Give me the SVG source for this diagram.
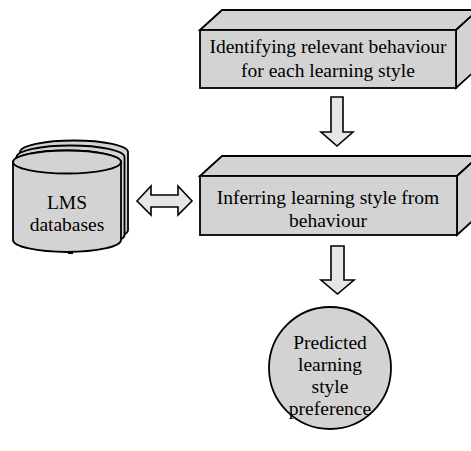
<svg xmlns="http://www.w3.org/2000/svg" width="471" height="451" viewBox="0 0 471 451">
  <style>
    .shape { fill: #d3d3d3; stroke: #000; stroke-width: 1.8; stroke-linejoin: miter; }
    .arrow { fill: #e6e6e6; stroke: #000; stroke-width: 1.6; stroke-linejoin: miter; }
    .label { font-family: "Liberation Serif", "Times New Roman", serif; font-size: 19.5px; fill: #000; text-anchor: middle; }
  </style>
  <rect width="471" height="451" fill="#fff"/>

  <!-- Process block: identifying behaviour -->
  <g id="identify">
    <polygon class="shape" points="200,30 222,10 478,10 456,30"/>
    <polygon class="shape" points="456,30 478,10 478,68 456,88"/>
    <rect class="shape" x="200" y="30" width="256" height="58"/>
    <text class="label" x="328" y="53">Identifying relevant behaviour</text>
    <text class="label" x="328" y="77">for each learning style</text>
  </g>

  <!-- Process block: inferring style -->
  <g id="infer">
    <polygon class="shape" points="200,176 222,156 479,156 457,176"/>
    <polygon class="shape" points="457,176 479,156 479,215 457,235"/>
    <rect class="shape" x="200" y="176" width="257" height="59"/>
    <text class="label" x="328" y="204">Inferring learning style from</text>
    <text class="label" x="328" y="227">behaviour</text>
  </g>

  <!-- Data store: stacked cylinders -->
  <g id="lms">
    <path class="shape" d="M20,152 A54,11.5 0 0 1 128,152 L128,230 A54,12 0 0 1 20,230 Z"/>
    <path class="shape" d="M16.5,157 A54,11.5 0 0 1 124.5,157 L124.5,235 A54,12 0 0 1 16.5,235 Z"/>
    <path class="shape" d="M13,162 A54,11.5 0 0 1 121,162 L121,240 A54,12 0 0 1 13,240 Z"/>
    <ellipse class="shape" cx="67" cy="162" rx="54" ry="11.5"/>
    <rect x="68" y="251" width="5" height="3" fill="#000"/>
    <text class="label" x="67" y="209">LMS</text>
    <text class="label" x="67" y="231">databases</text>
  </g>

  <!-- Result: predicted preference -->
  <g id="prediction">
    <circle class="shape" cx="330" cy="368" r="61"/>
    <text class="label" x="330" y="349">Predicted</text>
    <text class="label" x="330" y="371">learning</text>
    <text class="label" x="330" y="393">style</text>
    <text class="label" x="330" y="415">preference</text>
  </g>

  <!-- Block arrows between stages -->
  <g id="connectors">
    <polygon class="arrow" points="331,97 343,97 343,132 353,132 337,146 321,132 331,132"/>
    <polygon class="arrow" points="331,246 344,246 344,280 354,280 337.5,294 321,280 331,280"/>
    <polygon class="arrow" points="137,201 151,186 151,195 178,195 178,186 192,201 178,215 178,207 151,207 151,215"/>
  </g>
</svg>
